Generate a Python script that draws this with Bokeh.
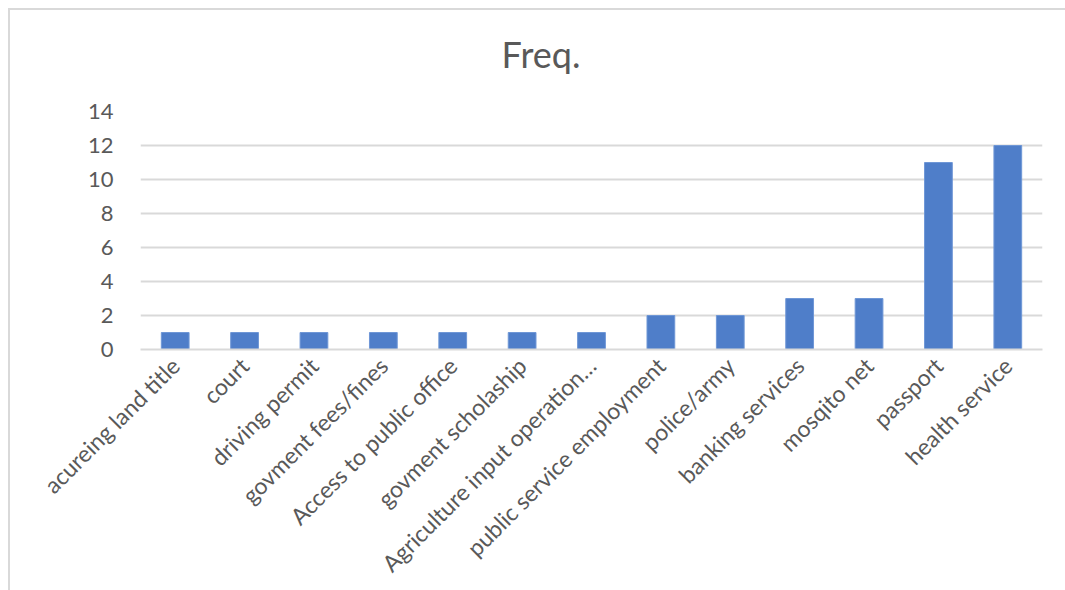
import math
from bokeh.plotting import figure
from bokeh.models import ColumnDataSource, FixedTicker, Div
from bokeh.layouts import column
from bokeh.embed import file_html
from bokeh.resources import INLINE

categories = ["acureing land title", "court", "driving permit", "govment fees/fines",
              "Access to public office", "govment scholaship", "Agriculture input operation…",
              "public service employment", "police/army", "banking services", "mosqito net",
              "passport", "health service"]
freq = [1, 1, 1, 1, 1, 1, 1, 2, 2, 3, 3, 11, 12]
y_ticks = [0, 2, 4, 6, 8, 10, 12, 14]
title_text = "Freq."

src = ColumnDataSource(data=dict(cat=categories, freq=freq))

title_div = Div(text=title_text, width=1052, height=75,
                styles={"text-align": "center", "font-family": "Lato", "font-size": "36px",
                        "color": "#595959", "line-height": "1", "padding-top": "21px",
                        "box-sizing": "border-box", "display": "block"})

p = figure(x_range=categories, y_range=(0, 14), width=1058, height=495,
           output_backend="svg", toolbar_location=None,
           min_border_left=130, min_border_right=26, min_border_bottom=241, min_border_top=16)
p.x_range.range_padding = 0

p.vbar(x="cat", top="freq", width=0.4, source=src, fill_color="#4f7ec9", line_color="#6f97d6", line_width=1)

p.outline_line_color = None
p.border_fill_color = "white"
p.background_fill_color = "white"

p.yaxis.ticker = FixedTicker(ticks=y_ticks)
p.yaxis.axis_line_color = None
p.yaxis.major_tick_line_color = None
p.yaxis.minor_tick_line_color = None
p.yaxis.major_label_text_font = "Lato"
p.yaxis.major_label_text_font_size = "22px"
p.yaxis.major_label_text_color = "#595959"
p.yaxis.major_label_standoff = 21

p.xaxis.axis_line_color = "#d9d9d9"
p.xaxis.axis_line_width = 2
p.xaxis.major_tick_line_color = None
p.xaxis.minor_tick_line_color = None
p.xaxis.major_label_orientation = math.pi / 4
p.xaxis.major_label_text_font = "Lato"
p.xaxis.major_label_text_font_size = "23px"
p.xaxis.major_label_text_color = "#595959"
p.xaxis.major_label_standoff = 6

p.xgrid.grid_line_color = None
p.ygrid.grid_line_color = "#d9d9d9"
p.ygrid.grid_line_width = 2

layout = column(title_div, p, spacing=0,
                styles={"margin-left": "8px", "margin-top": "8px", "background": "white",
                        "border-left": "2px solid #d9d9d9", "border-top": "2px solid #d9d9d9"})

html = file_html(layout, INLINE)
html = html.replace("</head>", "<style>html, body {overflow: hidden; margin: 0;}</style></head>", 1)
open("out.html", "w").write(html)
